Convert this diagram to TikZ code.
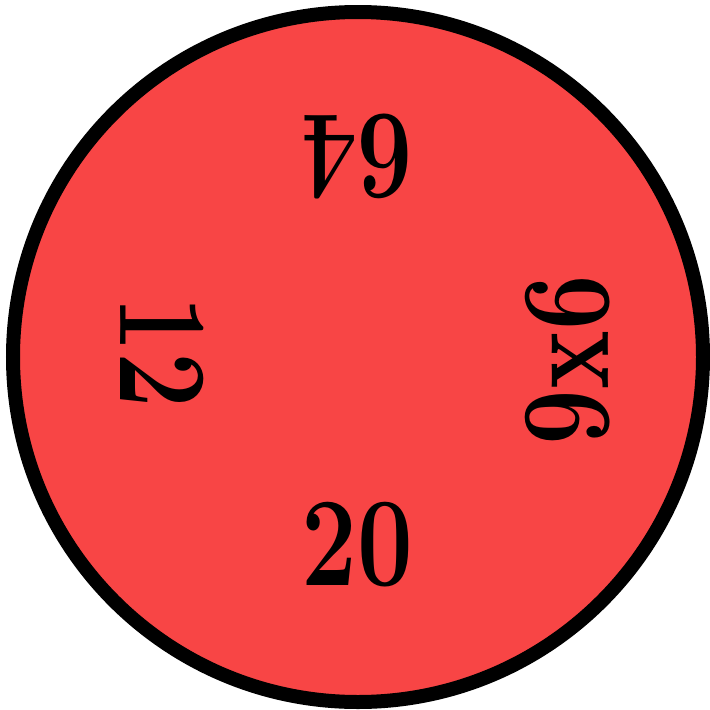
\documentclass[tikz,border=0pt]{standalone}
\usepackage{fontspec}
\definecolor{discred}{RGB}{248,69,69}
\newcommand{\narrowtext}[1]{\scalebox{0.78}[1]{#1}}
\begin{document}
\begin{tikzpicture}[x=1pt,y=-1pt,
  lbl/.style={inner sep=0pt,font=\fontsize{127}{127}\selectfont\bfseries}]
\useasboundingbox (0,0) rectangle (710,710);
\node[circle,draw=black,fill=discred,line width=14pt,minimum size=690pt,inner sep=0pt] (disc) at (358,357) {};
\node[lbl,rotate=180] (t64) at (357,157) {\narrowtext{64}};
\node[lbl,rotate=-90] (t12) at (162,352) {\narrowtext{12}};
\node[lbl,rotate=90] (t96) at (568,360) {\narrowtext{9x6}};
\node[lbl] (t20) at (357,545) {\narrowtext{20}};
\end{tikzpicture}
\end{document}
